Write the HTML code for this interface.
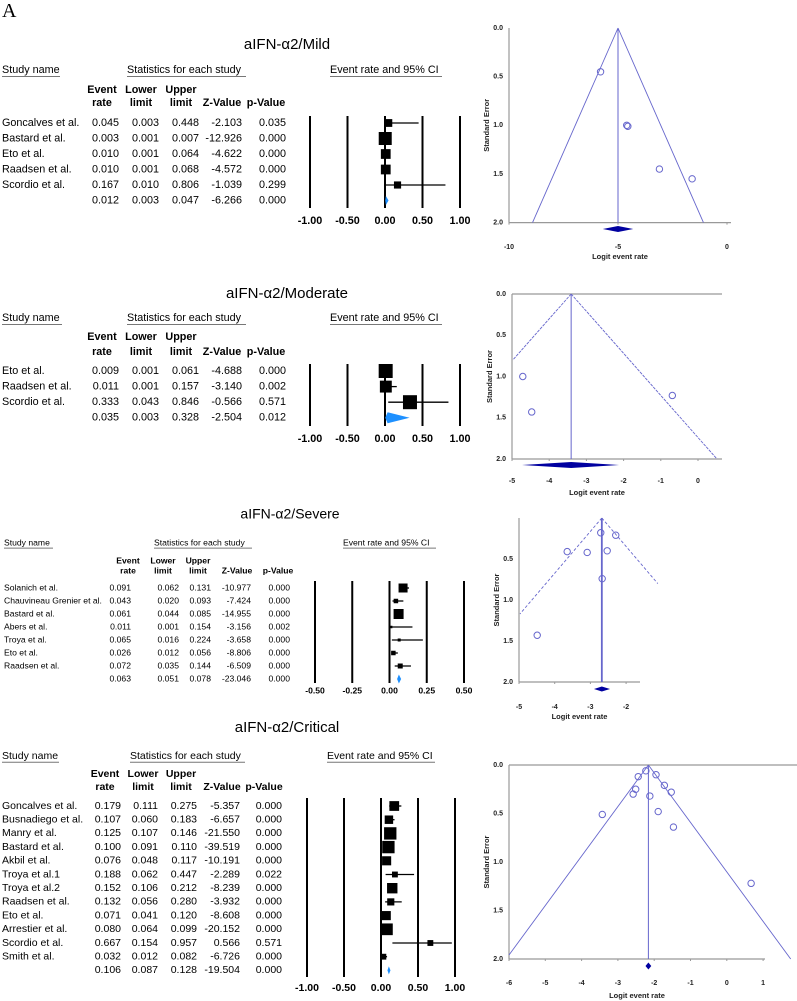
<!DOCTYPE html>
<html><head><meta charset="utf-8"><style>
html,body{margin:0;padding:0;background:#fff;}
svg{display:block;font-family:"Liberation Sans",Arial,sans-serif;}
</style></head><body>
<svg id="fig" width="797" height="1001" viewBox="0 0 797 1001" xmlns="http://www.w3.org/2000/svg">
<text x="2" y="17" font-family="Liberation Serif,serif" font-size="20">A</text>
</svg>
<script>
// ---------- Forest data ----------
const mildNames=["Goncalves et al.","Bastard et al.","Eto et al.","Raadsen et al.","Scordio  et al."];
const mildRate=[0.045,0.003,0.010,0.010,0.167,0.012];
const mildLower=[0.003,0.001,0.001,0.001,0.010,0.003];
const mildUpper=[0.448,0.007,0.064,0.068,0.806,0.047];
const mildZ=["-2.103","-12.926","-4.622","-4.572","-1.039","-6.266"];
const mildP=["0.035","0.000","0.000","0.000","0.299","0.000"];
const mildWeight=[0.6,1.0,0.75,0.75,0.55];

const modNames=["Eto et al.","Raadsen et al.","Scordio  et al."];
const modRate=[0.009,0.011,0.333,0.035];
const modLower=[0.001,0.001,0.043,0.003];
const modUpper=[0.061,0.157,0.846,0.328];
const modZ=["-4.688","-3.140","-0.566","-2.504"];
const modP=["0.000","0.002","0.571","0.012"];
const modWeight=[1.0,0.85,1.0];

const sevNames=["Solanich et al.","Chauvineau Grenier et al.","Bastard et al.","Abers et al.","Troya et al.","Eto et al.","Raadsen et al."];
const sevRate=[0.091,0.043,0.061,0.011,0.065,0.026,0.072,0.063];
const sevLower=[0.062,0.020,0.044,0.001,0.016,0.012,0.035,0.051];
const sevUpper=[0.131,0.093,0.085,0.154,0.224,0.056,0.144,0.078];
const sevZ=["-10.977","-7.424","-14.955","-3.156","-3.658","-8.806","-6.509","-23.046"];
const sevP=["0.000","0.000","0.000","0.002","0.000","0.000","0.000","0.000"];
const sevWeight=[0.9,0.45,1.0,0.25,0.3,0.45,0.5];

const critNames=["Goncalves et al.","Busnadiego et al.","Manry et al.","Bastard et al.","Akbil et al.","Troya et al.1","Troya et al.2","Raadsen et al.","Eto et al.","Arrestier et al.","Scordio  et al.","Smith et al."];
const critRate=[0.179,0.107,0.125,0.100,0.076,0.188,0.152,0.132,0.071,0.080,0.667,0.032,0.106];
const critLower=[0.111,0.060,0.107,0.091,0.048,0.062,0.106,0.056,0.041,0.064,0.154,0.012,0.087];
const critUpper=[0.275,0.183,0.146,0.110,0.117,0.447,0.212,0.280,0.120,0.099,0.957,0.082,0.128];
const critZ=["-5.357","-6.657","-21.550","-39.519","-10.191","-2.289","-8.239","-3.932","-8.608","-20.152","0.566","-6.726","-19.504"];
const critP=["0.000","0.000","0.000","0.000","0.000","0.022","0.000","0.000","0.000","0.000","0.571","0.000","0.000"];
const critWeight=[0.75,0.65,0.95,0.95,0.7,0.45,0.8,0.55,0.7,0.9,0.45,0.45];

const forestTicks1=["-1.00","-0.50","0.00","0.50","1.00"];
const forestTickVals1=[-1,-0.5,0,0.5,1];
const forestTicks2=["-0.50","-0.25","0.00","0.25","0.50"];
const forestTickVals2=[-0.5,-0.25,0,0.25,0.5];

// ---------- Funnel data ----------
const f1Logit=[-5.8,-4.6,-4.55,-3.1,-1.6];
const f1SE=[0.45,1.0,1.01,1.45,1.55];
const f1Center=-5.0, f1DiaLo=-5.7, f1DiaHi=-4.3;
const f1XTicks=[-10,-5,0];
const f2Logit=[-4.71,-4.47,-0.69];
const f2SE=[1.0,1.43,1.23];
const f2Center=-3.41, f2DiaLo=-4.73, f2DiaHi=-2.12;
const f2XTicks=[-5,-4,-3,-2,-1,0];
const f3Logit=[-3.65,-3.09,-2.71,-2.53,-2.29,-2.67,-4.49];
const f3SE=[0.41,0.42,0.18,0.40,0.21,0.74,1.43];
const f3Center=-2.68, f3DiaLo=-2.9, f3DiaHi=-2.45;
const f3XTicks=[-5,-4,-3,-2];
const f4Logit=[-2.23,-2.44,-1.95,-1.72,-2.51,-2.58,-1.53,-2.12,-1.89,-3.43,-1.47,0.67];
const f4SE=[0.06,0.12,0.10,0.21,0.25,0.30,0.28,0.32,0.48,0.51,0.64,1.22];
const f4Center=-2.16, f4DiaLo=-2.24, f4DiaHi=-2.08;
const f4XTicks=[-6,-5,-4,-3,-2,-1,0,1];
const seTicks=[0.0,0.5,1.0,1.5,2.0];

const NS="http://www.w3.org/2000/svg";
const svg=document.getElementById('fig');
function mk(tag,attrs,parent){const e=document.createElementNS(NS,tag);for(const k in attrs)e.setAttribute(k,attrs[k]);(parent||svg).appendChild(e);return e;}
function txt(x,y,s,attrs,parent){const e=mk('text',Object.assign({x:x,y:y,'dominant-baseline':'middle'},attrs||{}),parent);e.textContent=s;return e;}

function forest(c){
  const g=mk('g',{});
  
  
  const t=txt(c.titleX,c.titleY,c.title,{'font-size':c.titleFs,'text-anchor':'middle'},g);
  
  
  const fs=c.fs;
  for(const h of c.heads){
    const e=txt(h.x,c.headY,h.s,{'font-size':fs},g);
    
    
    mk('line',{x1:h.x,x2:h.x2,y1:c.headY+fs*0.6,y2:c.headY+fs*0.6,stroke:'#777','stroke-width':1},g);
  }
  const colTitles=[["Event","rate"],["Lower","limit"],["Upper","limit"],["","Z-Value"],["","p-Value"]];
  colTitles.forEach((ct,i)=>{
    const x=c.hcols[i];
    if(ct[0]){const e=txt(x,c.colY1,ct[0],{'font-size':fs,'font-weight':'bold','text-anchor':'middle'},g);
      }
    const e2=txt(x,c.colY2,ct[1],{'font-size':fs,'font-weight':'bold','text-anchor':'middle'},g);
    
    
  });
  const sx=v=>c.px0+(v-c.min)/(c.max-c.min)*(c.px1-c.px0);
  const n=c.names.length;
  c.tickVals.forEach((v,i)=>{
    const l=mk('line',{x1:sx(v),x2:sx(v),y1:c.vTop,y2:c.vBot,stroke:'#000','stroke-width':2},g);
    
    
    const tl=txt(sx(v),c.axisY,c.ticks[i],{'font-size':fs,'font-weight':'bold','text-anchor':'middle'},g);
    
    
  });
  for(let i=0;i<=n;i++){
    const y=c.rowY0+i*c.rowDy;
    if(i<n){const nm=txt(c.nameX,y,c.names[i],{'font-size':fs},g);
      }
    const vals=[c.rate[i].toFixed(3),c.lower[i].toFixed(3),c.upper[i].toFixed(3),c.z[i],c.p[i]];
    vals.forEach((v,j)=>{const e=txt(c.cols[j],y,v,{'font-size':fs,'text-anchor':'end'},g);
      });
    if(i<n){
      const ln=mk('line',{x1:sx(c.lower[i]),x2:sx(c.upper[i]),y1:y,y2:y,stroke:'#000','stroke-width':1.3},g);
      
      
      const s=c.sqMax*c.w[i];
      const sq=mk('rect',{x:sx(c.rate[i])-s/2,y:y-s/2,width:s,height:s,fill:'#000'},g);
      
      
    } else {
      const h=c.diaH;
      const d=mk('polygon',{points:`${sx(c.lower[i])},${y} ${sx(c.rate[i])},${y-h/2} ${sx(c.upper[i])},${y} ${sx(c.rate[i])},${y+h/2}`,fill:'#1e90ff'},g);
      
      
    }
  }
}

forest({key:'mild',title:'aIFN-α2/Mild',titleX:287,titleY:45,titleFs:15,fs:10.8,headY:70,
  heads:[{x:2,x2:60,s:'Study name'},{x:127,x2:246,s:'Statistics for each study'},{x:330,x2:442,s:'Event rate and 95% CI'}],
  colY1:90,colY2:103,cols:[119,159,199,242,286],hcols:[102,141,181,222,266],nameX:2,rowY0:123,rowDy:15.5,
  names:mildNames,rate:mildRate,lower:mildLower,upper:mildUpper,z:mildZ,p:mildP,w:mildWeight,
  min:-1,max:1,px0:310,px1:460,tickVals:forestTickVals1,ticks:forestTicks1,vTop:116,vBot:208,axisY:221,sqMax:13,diaH:9});
forest({key:'moderate',title:'aIFN-α2/Moderate',titleX:287,titleY:294,titleFs:15,fs:10.8,headY:318,
  heads:[{x:2,x2:62,s:'Study name'},{x:127,x2:246,s:'Statistics for each study'},{x:330,x2:442,s:'Event rate and 95% CI'}],
  colY1:337,colY2:352,cols:[119,159,199,242,286],hcols:[102,141,181,222,266],nameX:2,rowY0:371,rowDy:15.6,
  names:modNames,rate:modRate,lower:modLower,upper:modUpper,z:modZ,p:modP,w:modWeight,
  min:-1,max:1,px0:310,px1:460,tickVals:forestTickVals1,ticks:forestTicks1,vTop:364,vBot:426,axisY:439,sqMax:14,diaH:11});
forest({key:'severe',title:'aIFN-α2/Severe',titleX:290,titleY:515,titleFs:14,fs:8.6,headY:543,
  heads:[{x:4,x2:53,s:'Study name'},{x:154,x2:252,s:'Statistics for each study'},{x:343,x2:436,s:'Event rate and 95% CI'}],
  colY1:561,colY2:571,cols:[131,179,211,251,290],hcols:[128,163,198,237,278],nameX:4,rowY0:588,rowDy:13,
  names:sevNames,rate:sevRate,lower:sevLower,upper:sevUpper,z:sevZ,p:sevP,w:sevWeight,
  min:-0.5,max:0.5,px0:315,px1:464,tickVals:forestTickVals2,ticks:forestTicks2,vTop:581,vBot:683,axisY:691,sqMax:10,diaH:9});
forest({key:'critical',title:'aIFN-α2/Critical',titleX:287,titleY:728,titleFs:15,fs:10.5,headY:756,
  heads:[{x:2,x2:59,s:'Study name'},{x:130,x2:245,s:'Statistics for each study'},{x:327,x2:435,s:'Event rate and 95% CI'}],
  colY1:774,colY2:787,cols:[121,158,197,240,282],hcols:[105,143,181,222,264],nameX:2,rowY0:806,rowDy:13.7,
  names:critNames,rate:critRate,lower:critLower,upper:critUpper,z:critZ,p:critP,w:critWeight,
  min:-1,max:1,px0:307,px1:455,tickVals:forestTickVals1,ticks:forestTicks1,vTop:798,vBot:977,axisY:988,sqMax:13,diaH:8});

function funnel(c){
  const g=mk('g',{});
  
  
  const sx=v=>c.ax0+(v-c.xmin)*c.kx;
  const sy=v=>c.ay0+v*c.ky;
  const xr=c.axRight;
  if(c.topLine) mk('line',{x1:c.ax0,x2:c.topRight,y1:sy(0),y2:sy(0),stroke:'#999','stroke-width':1.2},g);
  mk('line',{x1:c.ax0,x2:c.ax0,y1:sy(0),y2:sy(2),stroke:'#999','stroke-width':1.2},g);
  mk('line',{x1:c.ax0,x2:xr,y1:sy(2),y2:sy(2),stroke:'#999','stroke-width':1.2},g);
  c.yT.forEach(v=>{
    const t=txt(c.ax0-6,sy(v),v.toFixed(1),{'font-size':7,'font-weight':'bold','text-anchor':'end',fill:'#222'},g);
    
    
  });
  c.xT.forEach(v=>{
    mk('line',{x1:sx(v),x2:sx(v),y1:sy(2),y2:sy(2)+2,stroke:'#999'},g);
    const t=txt(sx(v),c.tickY,String(v),{'font-size':7,'font-weight':'bold','text-anchor':'middle',fill:'#222'},g);
    
    
  });
  const xt=txt((c.ax0+xr)/2-(c.titleShift||0),c.titleY,'Logit event rate',{'font-size':7.5,'font-weight':'bold','text-anchor':'middle',fill:'#222'},g);
  
  
  const ym=(sy(0)+sy(2))/2;
  const yt=txt(0,0,'Standard Error',{'font-size':7.5,'font-weight':'bold','text-anchor':'middle',fill:'#222',transform:`translate(${c.ax0-22},${ym}) rotate(-90)`},g);
  
  
  const col='#6666cc';
  const dash=c.dash||'';
  const vl=mk('line',{x1:sx(c.center),x2:sx(c.center),y1:sy(0),y2:sy(2),stroke:col,'stroke-width':c.vw||1},g);
  
  
  let seL=Math.min(2,(c.center-c.xmin)/1.96);
  if(c.seL!==undefined) seL=c.seL;
  let seR=c.seR!==undefined?c.seR:2;
  const l1=mk('line',{x1:sx(c.center),y1:sy(0),x2:sx(c.center-1.96*seL),y2:sy(seL),stroke:col,'stroke-width':0.9,'stroke-dasharray':dash},g);
  
  
  const l2=mk('line',{x1:sx(c.center),y1:sy(0),x2:sx(c.center+1.96*seR),y2:sy(seR),stroke:col,'stroke-width':0.9,'stroke-dasharray':dash},g);
  
  
  c.lx.forEach((v,i)=>{
    const p=mk('circle',{cx:sx(v),cy:sy(c.se[i]),r:3.2,fill:'none',stroke:col,'stroke-width':1},g);
    
    
  });
  const dy=c.diaY, dh=c.diaH;
  const d=mk('polygon',{points:`${sx(c.dLo)},${dy} ${sx(c.center)},${dy-dh/2} ${sx(c.dHi)},${dy} ${sx(c.center)},${dy+dh/2}`,fill:'#0000a0'},g);
  
  
}

funnel({key:'mild',ax0:509,xmin:-10,kx:21.8,ay0:28,ky:97.3,axRight:731,topLine:false,
  yT:seTicks,xT:f1XTicks,tickY:247,titleY:257,lx:f1Logit,se:f1SE,center:f1Center,dLo:f1DiaLo,dHi:f1DiaHi,diaY:229,diaH:6});
funnel({key:'moderate',ax0:512,xmin:-5,kx:37.2,ay0:294,ky:82.5,axRight:722,topLine:true,topRight:722,
  yT:seTicks,xT:f2XTicks,tickY:481,titleY:493,titleShift:20,lx:f2Logit,se:f2SE,center:f2Center,dLo:f2DiaLo,dHi:f2DiaHi,diaY:465,diaH:6,dash:'3,1',seL:0.8,seR:2});
funnel({key:'severe',ax0:519,xmin:-5,kx:35.7,ay0:518,ky:82,axRight:640,topLine:false,
  yT:[0.5,1.0,1.5,2.0],xT:f3XTicks,tickY:707,titleY:717,lx:f3Logit,se:f3SE,center:f3Center,dLo:f3DiaLo,dHi:f3DiaHi,diaY:689,diaH:5,dash:'3,2',seL:1.17,seR:0.8,vw:1.8});
funnel({key:'critical',ax0:509,xmin:-6,kx:36.3,ay0:765,ky:97,axRight:765,topLine:true,topRight:797,
  yT:seTicks,xT:f4XTicks,tickY:983,titleY:996,lx:f4Logit,se:f4SE,center:f4Center,dLo:f4DiaLo,dHi:f4DiaHi,diaY:966,diaH:7});
</script>
</body></html>
